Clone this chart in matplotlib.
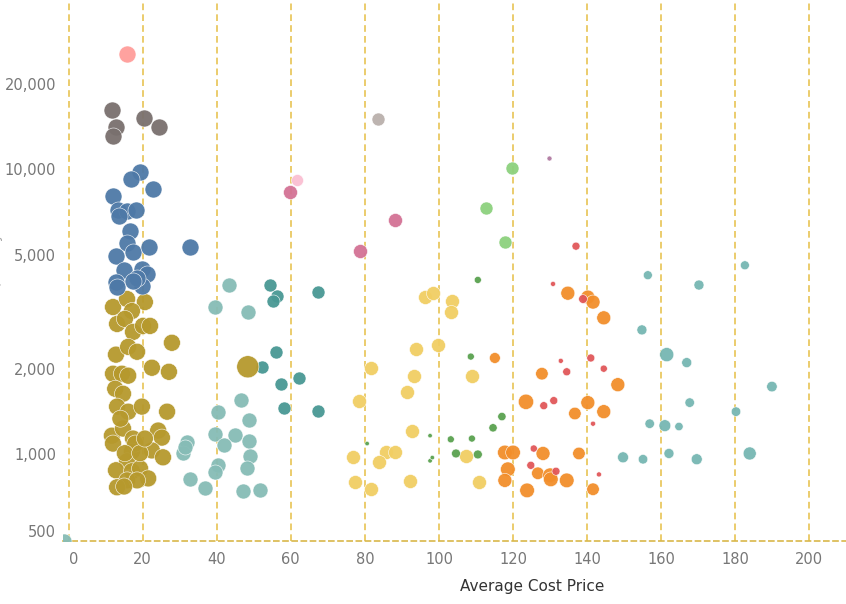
import numpy as np
import matplotlib
matplotlib.use("Agg")
import matplotlib.pyplot as plt
from matplotlib.ticker import FixedLocator, FuncFormatter, NullLocator

# Valores (x = custo médio, y = quantidade, escala log)
salmon_x = [15.9]
salmon_y = [25500]

gray_x = [11.7, 12.8, 12.0, 20.4, 24.4]
gray_y = [16200, 14100, 13150, 15100, 14100]

blue_x = [19.3, 16.9, 22.8, 12.0, 13.4, 15.8, 18.2, 13.6, 16.6, 15.8, 17.4, 21.7, 32.8,
          12.8, 15.0, 19.8, 21.2, 12.8, 13.1, 19.8, 18.5, 17.4]
blue_y = [9760, 9230, 8510, 8040, 7190, 7130, 7190, 6850, 6070, 5510, 5120, 5330, 5330,
          4970, 4430, 4470, 4290, 4030, 3870, 3900, 4170, 4050]

gold_x = [12.0, 15.8, 20.6, 17.1, 13.1, 15.2, 17.4, 20.1, 22.0, 27.9, 12.8, 16.1, 18.5,
          12.0, 14.4, 16.1, 22.5, 27.1, 12.6, 14.7, 13.1, 16.1, 19.8, 26.6, 11.7, 14.7,
          17.4, 12.0, 17.1, 24.2, 25.2, 22.5, 25.5, 15.8, 12.8, 17.1, 19.3, 21.5, 15.8,
          18.5, 13.1, 15.0, 14.0, 18.0, 15.2, 19.3, 20.6, 48.4]
gold_y = [3290, 3510, 3425, 3185, 2870, 2990, 2690, 2825, 2825, 2465, 2240, 2385, 2293,
          1920, 1920, 1890, 2015, 1950, 1700, 1633, 1472, 1413, 1472, 1413, 1164, 1233,
          1137, 1092, 1024, 1213, 1146, 1033, 977, 946, 880, 873, 893, 824, 811,
          811, 767, 772, 1335, 1092, 1010, 1010, 1137, 2030]
gold_qty = [1] * 47 + [1.7]

lteal_x = [43.4, 39.5, 48.4, 46.6, 40.4, 48.7, 39.5, 44.9, 42.0, 48.7, 32.0, 30.9, 49.0,
           40.4, 39.5, 48.2, 32.8, 36.8, 47.1, 51.7, 31.4, -1.2]
lteal_y = [3930, 3290, 3165, 1555, 1413, 1324, 1183, 1174, 1083, 1119, 1110, 1008, 984,
           916, 866, 893, 818, 760, 743, 748, 1065, 495]

dteal_x = [54.4, 56.2, 55.3, 67.3, 56.0, 52.2, 62.2, 57.4, 58.2, 67.3]
dteal_y = [3930, 3600, 3450, 3715, 2293, 2030, 1858, 1770, 1460, 1425]

magenta_x = [59.8, 88.1, 78.7]
magenta_y = [8310, 6640, 5170]

lpink_x = [61.7]
lpink_y = [9150]

lgray_x = [83.5]
lgray_y = [15070]

lgreen_x = [119.7, 112.7, 117.8]
lgreen_y = [10080, 7310, 5560]

purple_x = [129.8]
purple_y = [11010]

green_x = [110.5, 108.6, 117.0, 114.6, 108.9, 103.2, 97.6, 104.6, 110.5, 97.6, 98.2, 80.6]
green_y = [4095, 2205, 1358, 1240, 1137, 1130, 1164, 1008, 1000, 950, 975, 1092]
green_qty = [1, 1, 1.4, 1.4, 1, 1, 0.4, 1.6, 1.6, 0.4, 0.4, 0.4]

yellow_x = [96.2, 98.4, 103.5, 103.2, 99.7, 93.8, 81.6, 93.3, 108.9, 91.4, 78.4, 92.7,
            85.7, 88.1, 76.8, 83.8, 107.3, 77.3, 81.6, 92.2, 110.8]
yellow_y = [3565, 3680, 3450, 3160, 2425, 2350, 2015, 1890, 1890, 1660, 1545, 1213,
            1024, 1016, 977, 938, 984, 798, 755, 805, 798]

orange_x = [115.1, 127.8, 123.5, 140.2, 136.7, 144.5, 148.3, 134.8, 140.2, 141.6, 144.5,
            117.8, 120.0, 128.1, 137.8, 118.6, 117.8, 126.7, 130.0, 130.2, 134.5, 123.8, 141.6]
orange_y = [2180, 1920, 1530, 1520, 1392, 1413, 1757, 3680, 3565, 3425, 3015,
            1016, 1016, 1008, 1008, 887, 811, 859, 845, 818, 811, 748, 755]
orange_qty = [0.6, 0.8, 1.2, 1, 0.8, 1, 1, 1, 1, 1, 1,
              1.1, 1.1, 1, 0.8, 1.1, 1, 0.8, 1.1, 1.1, 1.1, 1.1, 0.8]

red_x = [137.0, 130.8, 138.9, 141.0, 132.9, 134.5, 144.5, 128.3, 131.0, 141.6, 125.6,
         124.8, 131.6, 143.2]
red_y = [5380, 3965, 3510, 2180, 2130, 1950, 2000, 1483, 1545, 1282, 1049, 916, 873, 851]
red_qty = [1, 0.4, 1.2, 1, 0.4, 1, 0.8, 1, 1, 0.4, 0.8, 1, 1, 0.4]

teal2_x = [156.4, 170.2, 182.6, 154.8, 161.5, 166.9, 189.9, 167.7, 180.2, 156.9, 161.0,
           164.8, 149.7, 155.1, 162.1, 169.6, 183.9]
teal2_y = [4255, 3930, 4610, 2735, 2240, 2100, 1730, 1520, 1413, 1282, 1262, 1253,
           977, 962, 1008, 962, 1008]
teal2_qty = [0.8, 1, 0.8, 1, 2, 1, 1.1, 0.9, 0.9, 0.9, 1.4, 0.7, 1.2, 0.9, 1, 1.2, 1.7]

x_ticks = [0, 20, 40, 60, 80, 100, 120, 140, 160, 180, 200]
y_ticks = [500, 1000, 2000, 5000, 10000, 20000]


def area(d_px, qty=None):
    # diâmetro em pixels -> área em pontos^2
    if qty is None:
        return (d_px * 0.72) ** 2
    return np.asarray(qty, dtype=float) * (d_px * 0.72) ** 2


series = [
    (lteal_x, lteal_y, '#86bcb6', area(15)),
    (dteal_x, dteal_y, '#499894', area(13)),
    (gold_x, gold_y, '#b6992d', area(17, gold_qty)),
    (blue_x, blue_y, '#4e79a7', area(17)),
    (gray_x, gray_y, '#79706e', area(17)),
    (salmon_x, salmon_y, '#ff9d9a', area(17)),
    (magenta_x, magenta_y, '#d37295', area(14)),
    (lpink_x, lpink_y, '#fabfd2', area(12)),
    (lgray_x, lgray_y, '#bab0ac', area(13)),
    (yellow_x, yellow_y, '#f1ce63', area(14)),
    (lgreen_x, lgreen_y, '#8cd17d', area(13)),
    (green_x, green_y, '#59a14f', area(7, green_qty)),
    (orange_x, orange_y, '#f28e2b', area(14, orange_qty)),
    (red_x, red_y, '#e15759', area(8, red_qty)),
    (purple_x, purple_y, '#b07aa1', area(5)),
    (teal2_x, teal2_y, '#76b7b2', area(10, teal2_qty)),
]

fig = plt.figure(figsize=(8.46, 6.04), dpi=100)
ax = fig.add_axes([63 / 846, 63 / 604, 1 - 63 / 846, 1 - 63 / 604])

grid_col = '#e8c454'
for xt in x_ticks:
    ax.axvline(xt, color=grid_col, lw=1.2, ls=(0, (4, 2.5)), zorder=1)

for xs, ys, col, s in series:
    ax.scatter(xs, ys, s=s, color=col, edgecolors='white', linewidths=0.4,
               alpha=0.95, zorder=3)

ax.set_yscale('log')
ax.set_xlim(-1.5, 209.9)
ax.set_ylim(497, 39300)
ax.xaxis.set_major_locator(FixedLocator(x_ticks))
ax.yaxis.set_major_locator(FixedLocator(y_ticks))
ax.yaxis.set_minor_locator(NullLocator())
ax.yaxis.set_major_formatter(FuncFormatter(lambda v, p: f'{int(v):,}'))

for side in ['top', 'right', 'left']:
    ax.spines[side].set_visible(False)
ax.spines['bottom'].set_color('#d9b84a')
ax.spines['bottom'].set_linestyle((0, (3, 2.5)))
ax.spines['bottom'].set_linewidth(1.2)

ax.tick_params(length=0, labelsize=10.5, labelcolor='#777777')
ax.tick_params(axis='x', pad=8)
ax.tick_params(axis='y', pad=5)

fig.canvas.draw()
for lab in ax.get_yticklabels():
    if lab.get_text() == '500':
        lab.set_verticalalignment('bottom')
for lab in ax.get_xticklabels():
    if lab.get_text() == '0':
        lab.set_horizontalalignment('left')

fig.text(532 / 846, 1 - 586 / 604, 'Average Cost Price', ha='center', va='center',
         fontsize=11, color='#333333')
fig.text(-0.006, 1 - 262 / 604, 'Quantity', rotation=90, ha='center', va='center',
         fontsize=10, color='#aaaaaa')

fig.savefig('out.png', dpi=100)
